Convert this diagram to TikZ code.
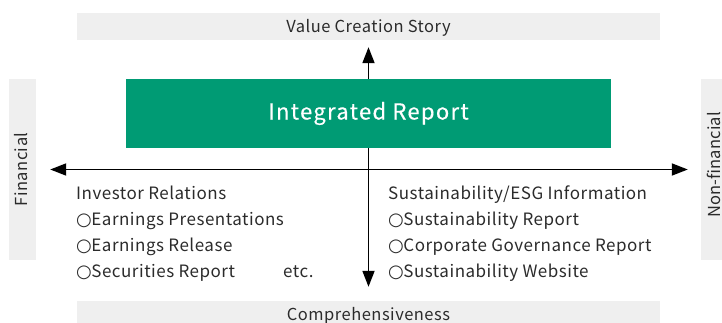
\documentclass[tikz,border=0pt]{standalone}
\usepackage{fontspec}
\setmainfont{Noto Sans CJK JP}
\newfontfamily\symfont{DejaVu Sans}
\usetikzlibrary{arrows.meta}
\definecolor{band}{HTML}{EFEFEF}
\definecolor{irgreen}{HTML}{009B74}
\definecolor{ink}{HTML}{2B2B2B}
\newcommand{\bul}{{\symfont\fontsize{18}{18}\selectfont\raisebox{0.3pt}{○}}\hspace{-0.5pt}}
\begin{document}
\begin{tikzpicture}[x=1pt,y=-1pt,
  bandbox/.style={fill=band,draw=none,inner sep=0pt},
  bandtext/.style={inner sep=0pt,text=ink,text height=12pt,text depth=0pt,font=\fontsize{16.5}{18}\selectfont\addfontfeatures{LetterSpace=3}},
  axis/.style={line width=1.8pt,draw=black,{Triangle[length=16pt,width=12pt]}-{Triangle[length=16pt,width=12pt]}},
  item/.style={anchor=base west,inner sep=0pt,text=ink,font=\fontsize{17}{19}\selectfont\addfontfeatures{LetterSpace=3}}]
\useasboundingbox (0,0) rectangle (722,323);
% grey bands on four sides
\node[bandbox,minimum width=583pt,minimum height=27pt] (top) at (368.5,26.5) {};
\node[bandbox,minimum width=583pt,minimum height=26pt] (bot) at (368.5,314) {};
\node[bandbox,minimum width=27pt,minimum height=181pt] (left) at (22.5,169.5) {};
\node[bandbox,minimum width=22pt,minimum height=181pt] (right) at (712,169.5) {};
% band captions
\node[bandtext] (topcap) at (top) {Value Creation Story};
\node[bandtext] (botcap) at (bot) {Comprehensiveness};
\node[bandtext,rotate=90] (leftcap) at (21.5,169.5) {Financial};
\node[bandtext,rotate=90,font=\fontsize{16.5}{18}\selectfont\addfontfeatures{LetterSpace=1}] (rightcap) at (714,165) {Non-financial};
% axes
\draw[axis,shorten <=7pt,shorten >=14pt] (top.south) -- (bot.north);
\draw[axis,shorten <=14pt,shorten >=13pt] (left.east) -- (right.west);
% central report
\node[fill=irgreen,text=white,minimum width=485pt,minimum height=69pt,inner sep=0pt,font=\fontsize{22}{24}\selectfont\addfontfeatures{LetterSpace=6,FakeBold=0.4}] (ir) at (368.5,113.5) {Integrated Report};
% left quadrant
\node[item] (l1) at (76,199.5) {Investor Relations};
\node[item] (l2) at (76,225.7) {\bul Earnings Presentations};
\node[item] (l3) at (76,251.7) {\bul Earnings Release};
\node[item] (l4) at (76,277.5) {\bul Securities Report};
\node[item] (etc) at (283,277.5) {etc.};
% right quadrant
\node[item] (r1) at (388,199.5) {Sustainability/ESG Information};
\node[item] (r2) at (388,225.7) {\bul Sustainability Report};
\node[item] (r3) at (388,251.7) {\bul Corporate Governance Report};
\node[item] (r4) at (388,277.5) {\bul Sustainability Website};
\end{tikzpicture}
\end{document}
